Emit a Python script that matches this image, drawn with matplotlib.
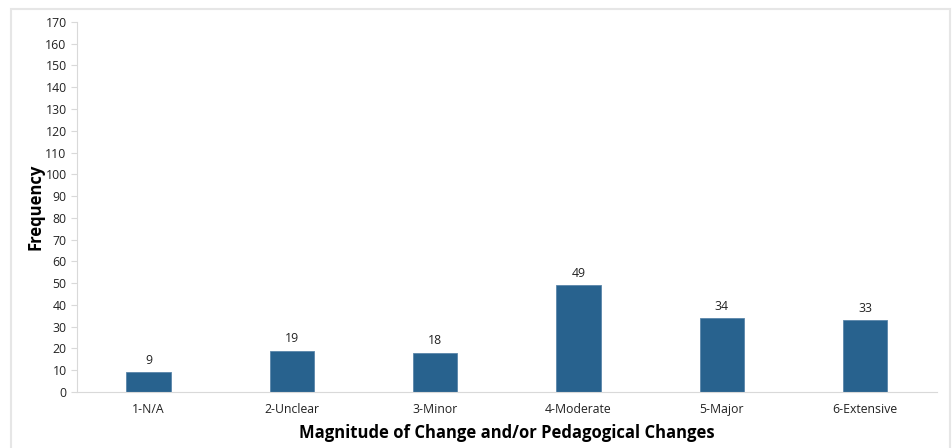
import matplotlib.pyplot as plt
from matplotlib.patches import Rectangle

categories = ['1-N/A', '2-Unclear', '3-Minor', '4-Moderate', '5-Major', '6-Extensive']
counts = [9, 19, 18, 49, 34, 33]

plt.rcParams['font.family'] = ['Open Sans', 'DejaVu Sans']

fig = plt.figure(figsize=(9.53, 4.48), dpi=100)
ax = fig.add_axes([0.0808, 0.125, 0.9022, 0.826])

# light frame around the whole chart
fig.patches.append(Rectangle((11 / 953, -0.01), 939 / 953, 1 - 9 / 448 + 0.01,
                             transform=fig.transFigure, fill=False,
                             edgecolor='#e6e6e6', linewidth=1.5))

x = range(len(categories))
bars = ax.bar(x, counts, width=0.31, color='#28628E', edgecolor='#5a86aa', linewidth=0.6)
for b, v in zip(bars, counts):
    ax.text(b.get_x() + b.get_width() / 2, v + 2.5, str(v), ha='center', va='bottom',
            fontsize=8.8, color='#222222')

ax.set_xlim(-0.5, len(categories) - 0.5)
ax.set_ylim(0, 170)
ax.set_yticks(range(0, 171, 10))
ax.set_xticks(list(x))
ax.set_xticklabels(categories)
ax.tick_params(axis='both', labelsize=8.8, colors='#222222')
ax.tick_params(axis='y', length=4, color='#d9d9d9')
ax.tick_params(axis='x', length=0, pad=8)

for s in ['top', 'right']:
    ax.spines[s].set_visible(False)
ax.spines['left'].set_color('#d9d9d9')
ax.spines['bottom'].set_color('#d9d9d9')

ax.set_ylabel('Frequency', fontsize=12, fontweight='bold')
ax.yaxis.set_label_coords(-0.038, 0.5)
ax.set_xlabel('Magnitude of Change and/or Pedagogical Changes', fontsize=12,
              fontweight='bold', labelpad=6)

fig.savefig('out.png', dpi=100)
